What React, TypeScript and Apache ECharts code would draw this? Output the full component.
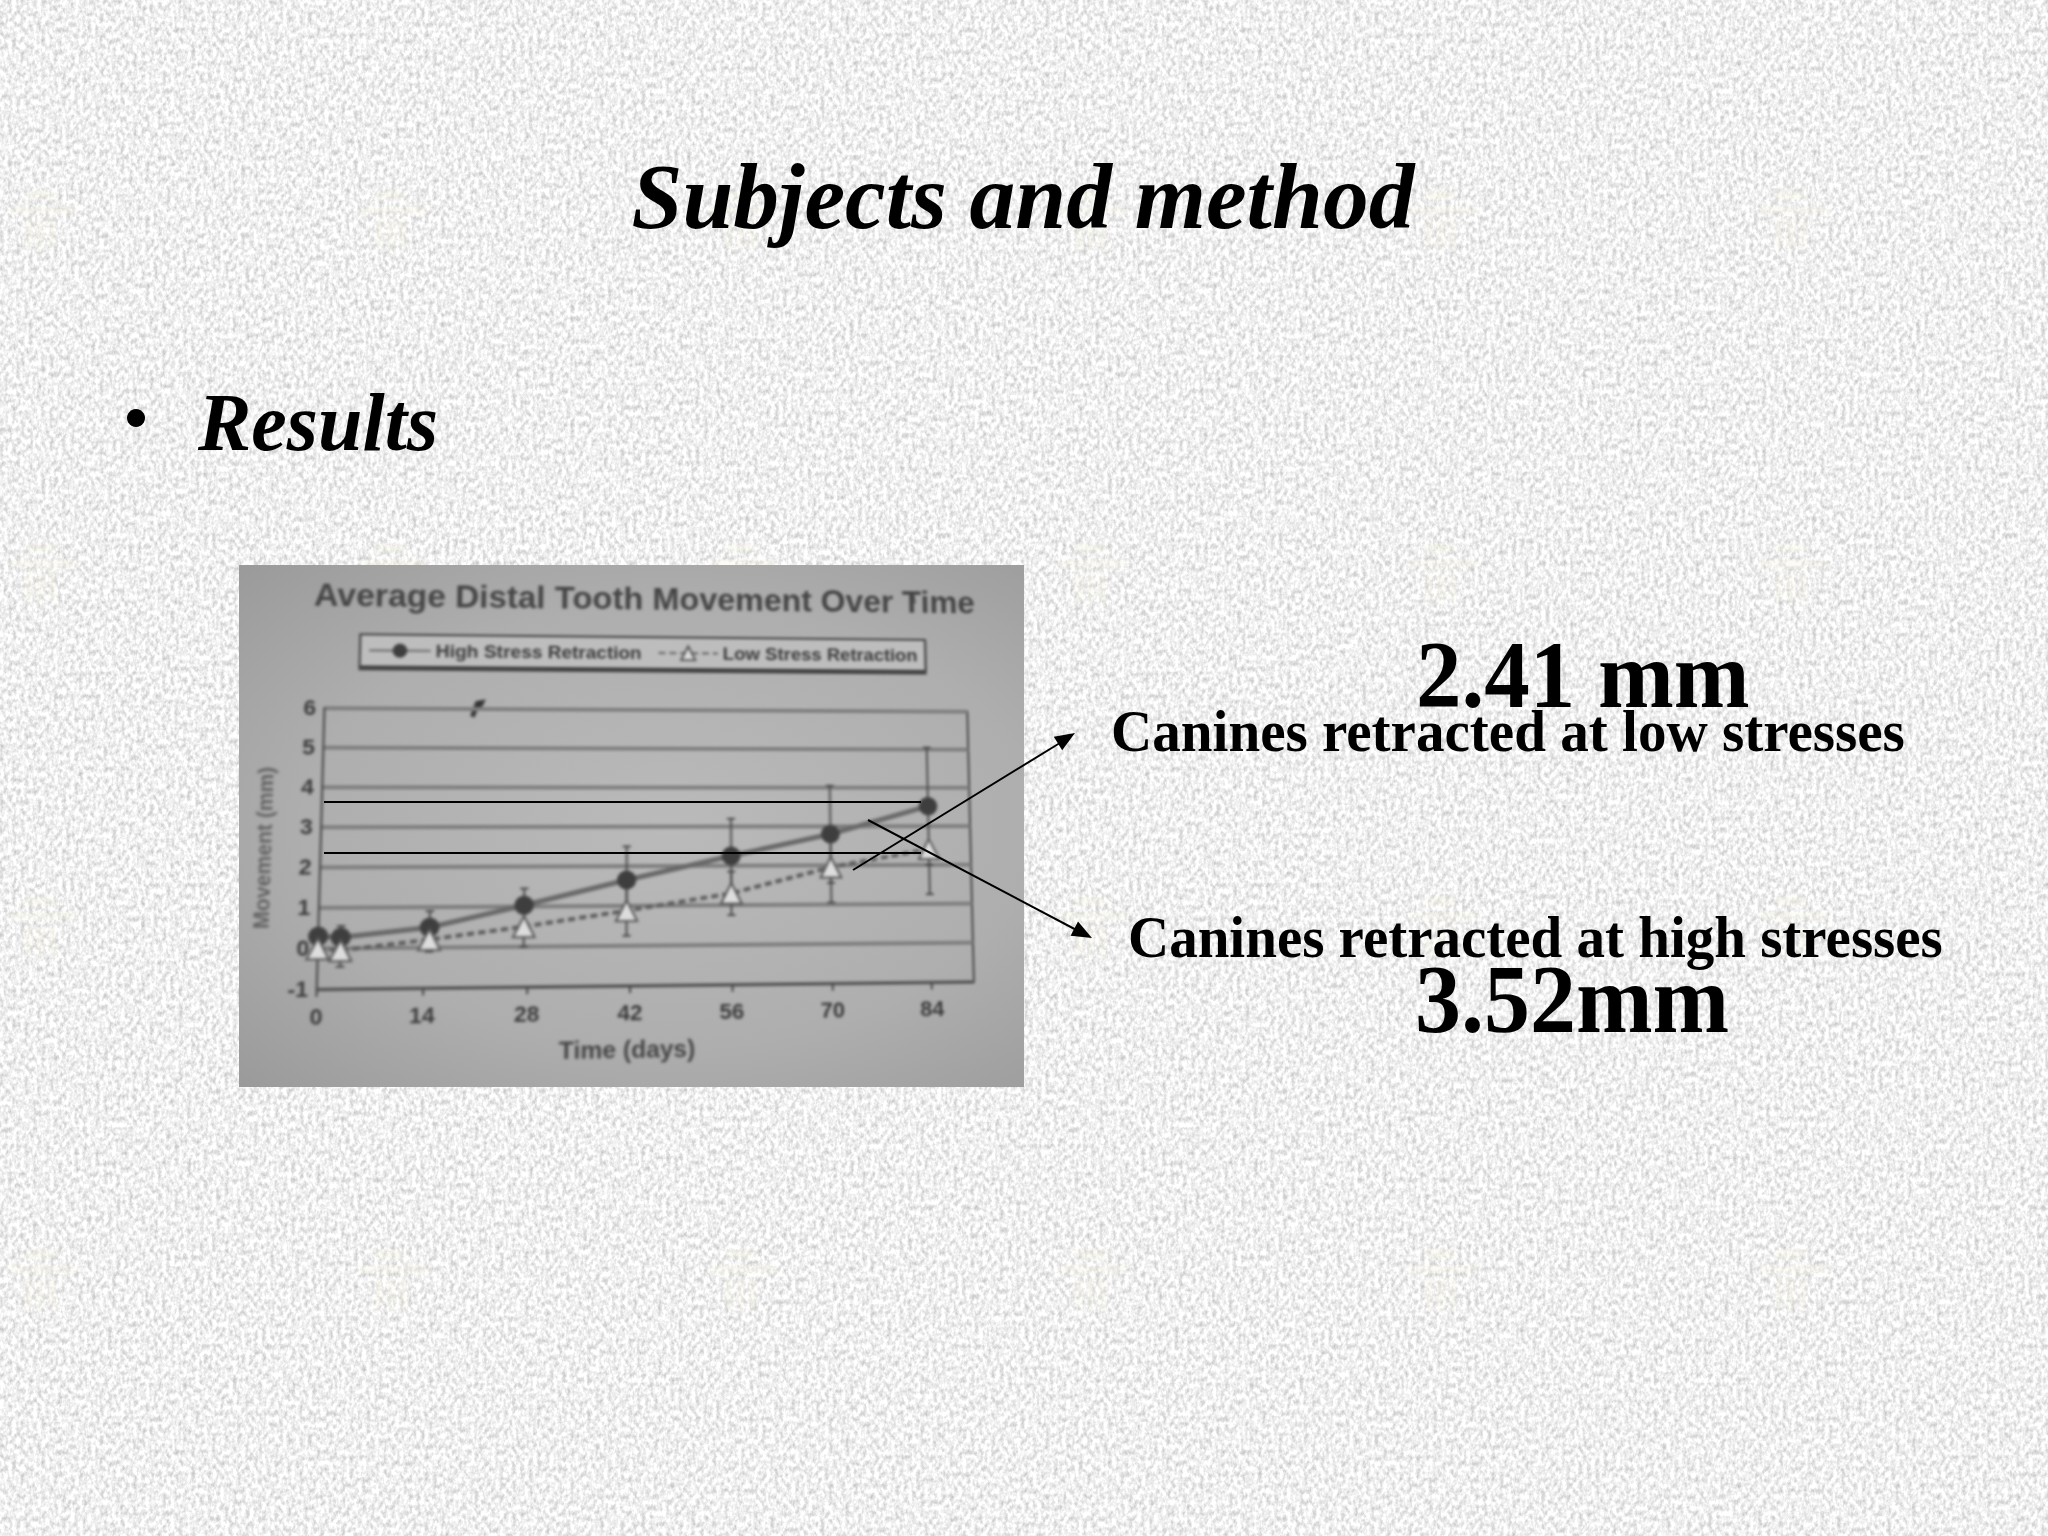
import React, { useEffect, useRef } from "react";
import * as echarts from "echarts";

const chartTitle = "Average Distal Tooth Movement Over Time";
const highName = "High Stress Retraction";
const lowName = "Low Stress Retraction";
const xTicks = [0, 14, 28, 42, 56, 70, 84];
const days = [0, 3, 14.8, 27.5, 41.5, 56, 70, 84];
const highValues = [0.3, 0.27, 0.5, 1.03, 1.65, 2.25, 2.8, 3.52];
const lowValues = [0, -0.05, 0.2, 0.5, 0.88, 1.3, 1.95, 2.41];
const highLower = [0.1, 0, 0.1, 0.6, 0.8, 1.3, 1.55, 2.0];
const highUpper = [0.4, 0.55, 0.9, 1.45, 2.5, 3.2, 4.05, 5.05];
const lowLower = [-0.2, -0.45, -0.1, 0, 0.25, 0.75, 1.05, 1.25];
const lowUpper = [0.2, 0.35, 0.5, 1.0, 1.5, 1.85, 2.85, 3.6];

const PHOTO = { left: 239, top: 565, width: 785, height: 522 };
const GRID = { left: 80, top: 143, width: 645, height: 280 };

function homography(src: number[][], dst: number[][]) {
  const a: number[][] = [];
  for (let i = 0; i < 4; i++) {
    const [x, y] = src[i];
    const [u, v] = dst[i];
    a.push([x, y, 1, 0, 0, 0, -u * x, -u * y, u]);
    a.push([0, 0, 0, x, y, 1, -v * x, -v * y, v]);
  }
  for (let c = 0; c < 8; c++) {
    let p = c;
    for (let r = c + 1; r < 8; r++) if (Math.abs(a[r][c]) > Math.abs(a[p][c])) p = r;
    [a[c], a[p]] = [a[p], a[c]];
    for (let r = 0; r < 8; r++) {
      if (r === c) continue;
      const f = a[r][c] / a[c][c];
      for (let k = c; k < 9; k++) a[r][k] -= f * a[c][k];
    }
  }
  const h = a.map((row, i) => row[8] / row[i]);
  return `matrix3d(${[h[0], h[3], 0, h[6], h[1], h[4], 0, h[7], 0, 0, 1, 0, h[2], h[5], 0, 1].join(",")})`;
}

const photoTransform = homography(
  [
    [GRID.left, GRID.top],
    [GRID.left + GRID.width, GRID.top],
    [GRID.left + GRID.width, GRID.top + GRID.height],
    [GRID.left, GRID.top + GRID.height],
  ],
  [
    [85.4, 143.2],
    [728.3, 146.7],
    [734.9, 417],
    [77.7, 424.6],
  ]
);

const errorSeries = (lower: number[], upper: number[], color: string) => ({
  type: "custom",
  silent: true,
  z: 1,
  data: days.map((d, i) => [d, lower[i], upper[i]]),
  encode: { x: 0, y: [1, 2] },
  renderItem: (_: any, api: any) => {
    const a = api.coord([api.value(0), api.value(1)]);
    const b = api.coord([api.value(0), api.value(2)]);
    const style = { stroke: color, lineWidth: 2 };
    const cap = (p: number[]) => ({
      type: "line",
      shape: { x1: p[0] - 4, y1: p[1], x2: p[0] + 4, y2: p[1] },
      style,
    });
    return {
      type: "group",
      children: [
        { type: "line", shape: { x1: a[0], y1: a[1], x2: b[0], y2: b[1] }, style },
        cap(a),
        cap(b),
      ],
    };
  },
});

const photoOption: any = {
  animation: false,
  backgroundColor: "transparent",
  textStyle: { fontFamily: "Liberation Sans" },
  title: {
    text: chartTitle,
    left: 67,
    top: 10,
    padding: 0,
    textStyle: { fontSize: 33, fontWeight: "bold", color: "#444444", fontFamily: "Liberation Sans" },
  },
  legend: {
    data: [highName, lowName],
    left: 113,
    top: 67,
    padding: [7, 8],
    itemGap: 16,
    itemWidth: 60,
    itemHeight: 18,
    borderColor: "#3c3c3c",
    borderWidth: 2,
    backgroundColor: "#bdbdbd",
    shadowColor: "#444444",
    shadowBlur: 0,
    shadowOffsetY: 3,
    textStyle: { fontSize: 19, fontWeight: "bold", color: "#3a3a3a", fontFamily: "Liberation Sans" },
  },
  grid: {
    ...GRID,
    show: true,
    borderColor: "#444444",
    borderWidth: 2,
    backgroundColor: "transparent",
  },
  xAxis: {
    type: "value",
    min: 0,
    max: 90,
    name: "Time (days)",
    nameLocation: "middle",
    nameGap: 51,
    nameTextStyle: { fontSize: 24, fontWeight: "bold", color: "#444444", padding: [0, 48, 0, 0] },
    splitLine: { show: false },
    axisLine: { onZero: false, lineStyle: { color: "#444444", width: 2 } },
    axisTick: { show: true, customValues: xTicks, length: 7, lineStyle: { color: "#444444", width: 2 } },
    axisLabel: { customValues: xTicks, margin: 15, fontSize: 22, fontWeight: "bold", color: "#3a3a3a" },
  },
  yAxis: {
    type: "value",
    min: -1,
    max: 6,
    interval: 1,
    name: "Movement (mm)",
    nameLocation: "middle",
    nameGap: 44,
    nameTextStyle: { fontSize: 21, fontWeight: "bold", color: "#606060" },
    splitLine: { show: true, lineStyle: { color: "#7d7d7d", width: 4 } },
    axisLine: { show: true, lineStyle: { color: "#444444", width: 2 } },
    axisTick: { show: false },
    axisLabel: { margin: 8, fontSize: 22, fontWeight: "bold", color: "#3a3a3a" },
  },
  graphic: [
    {
      type: "polygon",
      shape: { points: [[222, 150], [227, 135], [237, 133], [234, 140], [230, 142], [226, 152]] },
      style: { fill: "#333333" },
    },
    {
      type: "line",
      shape: { x1: 671, y1: 16, x2: 673, y2: 28 },
      style: { stroke: "#555555", lineWidth: 2 },
    },
  ],
  series: [
    errorSeries(lowLower, lowUpper, "#4a4a4a"),
    errorSeries(highLower, highUpper, "#4a4a4a"),
    {
      name: highName,
      type: "line",
      z: 3,
      data: days.map((d, i) => [d, highValues[i]]),
      symbol: "circle",
      symbolSize: 19,
      clip: false,
      itemStyle: { color: "#3e3e3e" },
      lineStyle: { color: "#686868", width: 5 },
    },
    {
      name: lowName,
      type: "line",
      z: 4,
      data: days.map((d, i) => [d, lowValues[i]]),
      symbol: "triangle",
      symbolSize: 21,
      clip: false,
      itemStyle: { color: "#dddddd", borderColor: "#555555", borderWidth: 2 },
      lineStyle: { color: "#5c5c5c", width: 4, type: [7, 4] },
    },
  ],
};

const serif = "Liberation Serif";
const slideText = (
  text: string,
  x: number,
  y: number,
  fontSize: number,
  italic: boolean,
  align: string = "left",
  scaleY: number = 1
) => ({
  type: "text",
  x,
  y,
  scaleY,
  style: {
    text,
    fontFamily: serif,
    fontSize,
    fontWeight: "bold",
    fontStyle: italic ? "italic" : "normal",
    fill: "#000000",
    textAlign: align,
    textVerticalAlign: "middle",
  },
});

const blackLine = (x1: number, y1: number, x2: number, y2: number) => ({
  type: "line",
  shape: { x1, y1, x2, y2 },
  style: { stroke: "#000000", lineWidth: 2 },
});

const arrowHead = (x1: number, y1: number, x2: number, y2: number) => {
  const d = Math.hypot(x2 - x1, y2 - y1);
  const ux = (x2 - x1) / d;
  const uy = (y2 - y1) / d;
  const bx = x2 - ux * 20;
  const by = y2 - uy * 20;
  return {
    type: "polygon",
    shape: {
      points: [
        [x2, y2],
        [bx - uy * 8, by + ux * 8],
        [bx + uy * 8, by - ux * 8],
      ],
    },
    style: { fill: "#000000" },
  };
};

const slideOption: any = {
  animation: false,
  backgroundColor: "transparent",
  graphic: [
    slideText("Subjects and method", 1023, 197, 91.5, true, "center", 1.02),
    { type: "circle", shape: { cx: 136, cy: 418, r: 9 }, style: { fill: "#000000" } },
    slideText("Results", 198, 422, 80, true, "left", 1.02),
    slideText("2.41 mm", 1416, 675, 91, false, "left", 1.05),
    slideText("Canines retracted at low stresses", 1111, 731, 57.1, false, "left", 1.05),
    slideText("Canines retracted at high stresses", 1128, 937, 57, false, "left", 1.05),
    slideText("3.52mm", 1415, 999, 92, false, "left", 1.05),
    blackLine(324, 802, 921, 802),
    blackLine(324, 853, 921, 853),
    blackLine(853, 870, 1068, 738),
    arrowHead(853, 870, 1075, 733),
    blackLine(868, 820, 1084, 934),
    arrowHead(868, 820, 1092, 938),
  ],
};

export default function App() {
  const photoRef = useRef<HTMLDivElement>(null);
  const slideRef = useRef<HTMLDivElement>(null);

  useEffect(() => {
    document.body.style.margin = "0";
    const photo = echarts.init(photoRef.current!, undefined, { renderer: "svg" });
    const slide = echarts.init(slideRef.current!, undefined, { renderer: "svg" });
    photo.setOption(photoOption);
    slide.setOption(slideOption);
    return () => {
      photo.dispose();
      slide.dispose();
    };
  }, []);

  return (
    <div style={{ position: "absolute", left: 0, top: 0, width: 2048, height: 1536, overflow: "hidden", background: "#e8e8e8" }}>
      <svg width={2048} height={1536} style={{ position: "absolute", left: 0, top: 0 }}>
        <defs>
          <filter id="paper" x="0" y="0" width="100%" height="100%" colorInterpolationFilters="sRGB">
            <feTurbulence type="fractalNoise" baseFrequency="0.24 0.18" numOctaves={3} seed={4} />
            <feColorMatrix values="0.42 0 0 0 0.73  0.42 0 0 0 0.73  0.42 0 0 0 0.73  0 0 0 0 1" />
          </filter>
          <filter id="soft" x="-20%" y="-20%" width="140%" height="140%">
            <feGaussianBlur stdDeviation="2" />
          </filter>
          <pattern id="motif" x="2" y="-164" width="350" height="353" patternUnits="userSpaceOnUse">
            <g fill="#f4f1df" opacity="0.4" filter="url(#soft)">
              <rect x="8" y="18" width="66" height="6" />
              <rect x="24" y="2" width="28" height="8" />
              <rect x="24" y="30" width="5" height="30" />
              <rect x="36" y="30" width="5" height="30" />
              <rect x="48" y="30" width="5" height="30" />
            </g>
          </pattern>
        </defs>
        <rect width={2048} height={1536} filter="url(#paper)" />
        <rect width={2048} height={1536} fill="url(#motif)" />
      </svg>
      <div
        style={{
          position: "absolute",
          ...PHOTO,
          background: "radial-gradient(ellipse at 55% 50%, #bababa 0%, #aeaeae 60%, #9a9a9a 100%)",
        }}
      />
      <div
        ref={photoRef}
        style={{
          position: "absolute",
          ...PHOTO,
          transformOrigin: "0 0",
          transform: photoTransform,
          filter: "blur(1.6px)",
        }}
      />
      <div ref={slideRef} style={{ position: "absolute", left: 0, top: 0, width: 2048, height: 1536 }} />
    </div>
  );
}
